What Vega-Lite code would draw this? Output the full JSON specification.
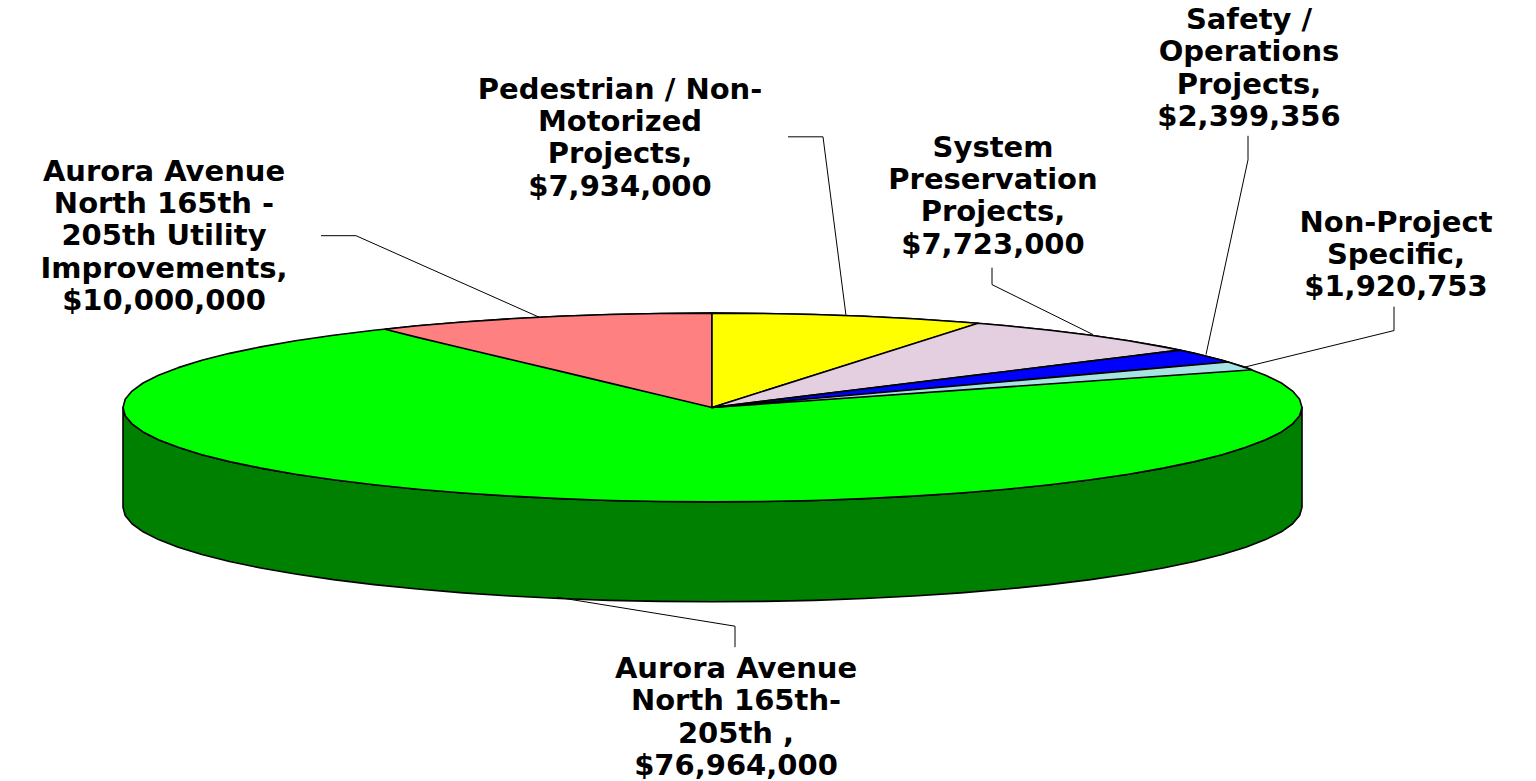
{"$schema":"https://vega.github.io/schema/vega-lite/v6.json","width":1536,"height":781,"autosize":{"type":"fit","contains":"padding"},"padding":0,"background":"white","view":{"stroke":null},
"layer":[
{"data":{"values":[
{"s":"side","x":123,"y":408,"y2":508},{"s":"side","x":125.2,"y":416.2,"y2":516.2},{"s":"side","x":132,"y":424.4,"y2":524.4},{"s":"side","x":143.1,"y":432.5,"y2":532.5},{"s":"side","x":158.5,"y":440.3,"y2":540.3},{"s":"side","x":178.2,"y":447.9,"y2":547.9},{"s":"side","x":201.9,"y":455.3,"y2":555.3},{"s":"side","x":229.5,"y":462.2,"y2":562.2},{"s":"side","x":260.8,"y":468.7,"y2":568.7},{"s":"side","x":295.5,"y":474.8,"y2":574.8},{"s":"side","x":333.4,"y":480.4,"y2":580.4},{"s":"side","x":374.1,"y":485.4,"y2":585.4},{"s":"side","x":417.5,"y":489.8,"y2":589.8},{"s":"side","x":463.1,"y":493.6,"y2":593.6},{"s":"side","x":510.6,"y":496.8,"y2":596.8},{"s":"side","x":559.6,"y":499.3,"y2":599.3},{"s":"side","x":609.8,"y":501.1,"y2":601.1},{"s":"side","x":660.6,"y":502.1,"y2":602.1},{"s":"side","x":712,"y":502.5,"y2":602.5},{"s":"side","x":763.4,"y":502.1,"y2":602.1},{"s":"side","x":814.2,"y":501.1,"y2":601.1},{"s":"side","x":864.4,"y":499.3,"y2":599.3},{"s":"side","x":913.4,"y":496.8,"y2":596.8},{"s":"side","x":960.9,"y":493.6,"y2":593.6},{"s":"side","x":1006.5,"y":489.8,"y2":589.8},{"s":"side","x":1049.9,"y":485.4,"y2":585.4},{"s":"side","x":1090.6,"y":480.4,"y2":580.4},{"s":"side","x":1128.5,"y":474.8,"y2":574.8},{"s":"side","x":1163.2,"y":468.7,"y2":568.7},{"s":"side","x":1194.5,"y":462.2,"y2":562.2},{"s":"side","x":1222.1,"y":455.3,"y2":555.3},{"s":"side","x":1245.8,"y":447.9,"y2":547.9},{"s":"side","x":1265.5,"y":440.3,"y2":540.3},{"s":"side","x":1281.4,"y":432.5,"y2":532.5},{"s":"side","x":1292.6,"y":424.4,"y2":524.4},{"s":"side","x":1299.6,"y":416.2,"y2":516.2},{"s":"side","x":1302,"y":408,"y2":508},

{"s":"Aurora Avenue North 165th-205th","x":123,"y":408,"y2":408},{"s":"Aurora Avenue North 165th-205th","x":125.2,"y":399.8,"y2":416.2},{"s":"Aurora Avenue North 165th-205th","x":132,"y":391.6,"y2":424.4},{"s":"Aurora Avenue North 165th-205th","x":143.1,"y":383.5,"y2":432.5},{"s":"Aurora Avenue North 165th-205th","x":158.5,"y":375.7,"y2":440.3},{"s":"Aurora Avenue North 165th-205th","x":178.2,"y":368.1,"y2":447.9},{"s":"Aurora Avenue North 165th-205th","x":201.9,"y":360.7,"y2":455.3},{"s":"Aurora Avenue North 165th-205th","x":229.5,"y":353.8,"y2":462.2},{"s":"Aurora Avenue North 165th-205th","x":260.8,"y":347.3,"y2":468.7},{"s":"Aurora Avenue North 165th-205th","x":295.5,"y":341.2,"y2":474.8},{"s":"Aurora Avenue North 165th-205th","x":333.4,"y":335.6,"y2":480.4},{"s":"Aurora Avenue North 165th-205th","x":374.1,"y":330.6,"y2":485.4},{"s":"Aurora Avenue North 165th-205th","x":417.5,"y":326.2,"y2":489.8},{"s":"Aurora Avenue North 165th-205th","x":463.1,"y":322.4,"y2":493.6},{"s":"Aurora Avenue North 165th-205th","x":510.6,"y":319.2,"y2":496.8},{"s":"Aurora Avenue North 165th-205th","x":559.6,"y":316.7,"y2":499.3},{"s":"Aurora Avenue North 165th-205th","x":609.8,"y":314.9,"y2":501.1},{"s":"Aurora Avenue North 165th-205th","x":660.6,"y":313.9,"y2":502.1},{"s":"Aurora Avenue North 165th-205th","x":712,"y":313.5,"y2":502.5},{"s":"Aurora Avenue North 165th-205th","x":763.4,"y":313.9,"y2":502.1},{"s":"Aurora Avenue North 165th-205th","x":814.2,"y":314.9,"y2":501.1},{"s":"Aurora Avenue North 165th-205th","x":864.4,"y":316.7,"y2":499.3},{"s":"Aurora Avenue North 165th-205th","x":913.4,"y":319.2,"y2":496.8},{"s":"Aurora Avenue North 165th-205th","x":960.9,"y":322.4,"y2":493.6},{"s":"Aurora Avenue North 165th-205th","x":1006.5,"y":326.2,"y2":489.8},{"s":"Aurora Avenue North 165th-205th","x":1049.9,"y":330.6,"y2":485.4},{"s":"Aurora Avenue North 165th-205th","x":1090.6,"y":335.6,"y2":480.4},{"s":"Aurora Avenue North 165th-205th","x":1128.5,"y":341.2,"y2":474.8},{"s":"Aurora Avenue North 165th-205th","x":1163.2,"y":347.3,"y2":468.7},{"s":"Aurora Avenue North 165th-205th","x":1194.5,"y":353.8,"y2":462.2},{"s":"Aurora Avenue North 165th-205th","x":1222.1,"y":360.7,"y2":455.3},{"s":"Aurora Avenue North 165th-205th","x":1245.8,"y":368.1,"y2":447.9},{"s":"Aurora Avenue North 165th-205th","x":1265.5,"y":375.7,"y2":440.3},{"s":"Aurora Avenue North 165th-205th","x":1281.4,"y":383.5,"y2":432.5},{"s":"Aurora Avenue North 165th-205th","x":1292.6,"y":391.6,"y2":424.4},{"s":"Aurora Avenue North 165th-205th","x":1299.6,"y":399.8,"y2":416.2},{"s":"Aurora Avenue North 165th-205th","x":1302,"y":408,"y2":408},

{"s":"Aurora Avenue North 165th - 205th Utility Improvements","x":385,"y":329.6,"y2":329.6},{"s":"Aurora Avenue North 165th - 205th Utility Improvements","x":417.5,"y":326.2,"y2":337.8},{"s":"Aurora Avenue North 165th - 205th Utility Improvements","x":463.1,"y":322.4,"y2":348.6},{"s":"Aurora Avenue North 165th - 205th Utility Improvements","x":510.6,"y":319.2,"y2":360},{"s":"Aurora Avenue North 165th - 205th Utility Improvements","x":559.6,"y":316.7,"y2":371.6},{"s":"Aurora Avenue North 165th - 205th Utility Improvements","x":609.8,"y":314.9,"y2":383.6},{"s":"Aurora Avenue North 165th - 205th Utility Improvements","x":660.6,"y":313.9,"y2":395.7},{"s":"Aurora Avenue North 165th - 205th Utility Improvements","x":712,"y":313.5,"y2":408},

{"s":"Pedestrian / Non-Motorized Projects","x":712,"y":313.5,"y2":408},{"s":"Pedestrian / Non-Motorized Projects","x":763.4,"y":313.9,"y2":391.8},{"s":"Pedestrian / Non-Motorized Projects","x":814.2,"y":314.9,"y2":375.7},{"s":"Pedestrian / Non-Motorized Projects","x":864.4,"y":316.7,"y2":359.9},{"s":"Pedestrian / Non-Motorized Projects","x":913.4,"y":319.2,"y2":344.4},{"s":"Pedestrian / Non-Motorized Projects","x":960.9,"y":322.4,"y2":329.4},{"s":"Pedestrian / Non-Motorized Projects","x":978,"y":323.7,"y2":323.7},

{"s":"System Preservation Projects","x":712,"y":408,"y2":408},{"s":"System Preservation Projects","x":978,"y":323.7,"y2":375.4},{"s":"System Preservation Projects","x":1006.5,"y":326.2,"y2":371.9},{"s":"System Preservation Projects","x":1049.9,"y":330.6,"y2":366.6},{"s":"System Preservation Projects","x":1090.6,"y":335.6,"y2":361.6},{"s":"System Preservation Projects","x":1128.5,"y":341.2,"y2":356.9},{"s":"System Preservation Projects","x":1163.2,"y":347.3,"y2":352.6},{"s":"System Preservation Projects","x":1180,"y":350.6,"y2":350.6},

{"s":"Safety / Operations Projects","x":712,"y":408,"y2":408},{"s":"Safety / Operations Projects","x":1180,"y":350.6,"y2":366.6},{"s":"Safety / Operations Projects","x":1194.5,"y":353.8,"y2":365.4},{"s":"Safety / Operations Projects","x":1222.1,"y":360.7,"y2":362.9},{"s":"Safety / Operations Projects","x":1228,"y":362.4,"y2":362.4},

{"s":"Non-Project Specific","x":712,"y":408,"y2":408},{"s":"Non-Project Specific","x":1228,"y":362.4,"y2":372},{"s":"Non-Project Specific","x":1245.8,"y":368.1,"y2":370.7},{"s":"Non-Project Specific","x":1252,"y":370.3,"y2":370.3}
]},
"mark":{"type":"area","orient":"vertical","stroke":"black","strokeWidth":1.6,"strokeJoin":"round","opacity":1},
"encoding":{
"x":{"field":"x","type":"quantitative","scale":{"domain":[0,1536],"nice":false,"zero":false},"axis":null},
"y":{"field":"y","type":"quantitative","scale":{"domain":[781,0],"nice":false,"zero":false},"axis":null},
"y2":{"field":"y2"},
"color":{"field":"s","type":"nominal","legend":null,"sort":null,"scale":{"domain":["side","Aurora Avenue North 165th-205th","Aurora Avenue North 165th - 205th Utility Improvements","Pedestrian / Non-Motorized Projects","System Preservation Projects","Safety / Operations Projects","Non-Project Specific"],"range":["#008000","#00FF00","#FF8080","#FFFF00","#E3CFDF","#0000FF","#A6E4E4"]}}
}},
{"data":{"values":[
{"l":"a","o":1,"x":321,"y":236},{"l":"a","o":2,"x":356,"y":236},{"l":"a","o":3,"x":540,"y":318},
{"l":"b","o":1,"x":788,"y":137},{"l":"b","o":2,"x":823,"y":137},{"l":"b","o":3,"x":846,"y":316},
{"l":"c","o":1,"x":992,"y":268},{"l":"c","o":2,"x":992,"y":285},{"l":"c","o":3,"x":1093,"y":335},
{"l":"d","o":1,"x":1248,"y":136},{"l":"d","o":2,"x":1248,"y":160},{"l":"d","o":3,"x":1206,"y":355},
{"l":"e","o":1,"x":1394,"y":307},{"l":"e","o":2,"x":1394,"y":331},{"l":"e","o":3,"x":1243,"y":368},
{"l":"f","o":1,"x":735,"y":648},{"l":"f","o":2,"x":735,"y":627},{"l":"f","o":3,"x":557,"y":598}
]},
"mark":{"type":"line","color":"black","strokeWidth":1},
"encoding":{"x":{"field":"x","type":"quantitative"},"y":{"field":"y","type":"quantitative"},"detail":{"field":"l"},"order":{"field":"o","type":"ordinal"}}},
{"data":{"values":[
{"t":"Aurora Avenue\nNorth 165th -\n205th Utility\nImprovements,\n$10,000,000","x":164,"y":172},
{"t":"Pedestrian / Non-\nMotorized\nProjects,\n$7,934,000","x":620,"y":90},
{"t":"System\nPreservation\nProjects,\n$7,723,000","x":993,"y":148},
{"t":"Safety /\nOperations\nProjects,\n$2,399,356","x":1249,"y":20},
{"t":"Non-Project\nSpecific,\n$1,920,753","x":1396,"y":223},
{"t":"Aurora Avenue\nNorth 165th-\n205th ,\n$76,964,000","x":736,"y":670}
]},
"mark":{"type":"text","font":"DejaVu Sans","fontWeight":"bold","fontSize":29,"lineHeight":32.3,"lineBreak":"\n","align":"center","baseline":"middle","color":"black"},
"encoding":{"x":{"field":"x","type":"quantitative"},"y":{"field":"y","type":"quantitative"},"text":{"field":"t"}}}
]}
